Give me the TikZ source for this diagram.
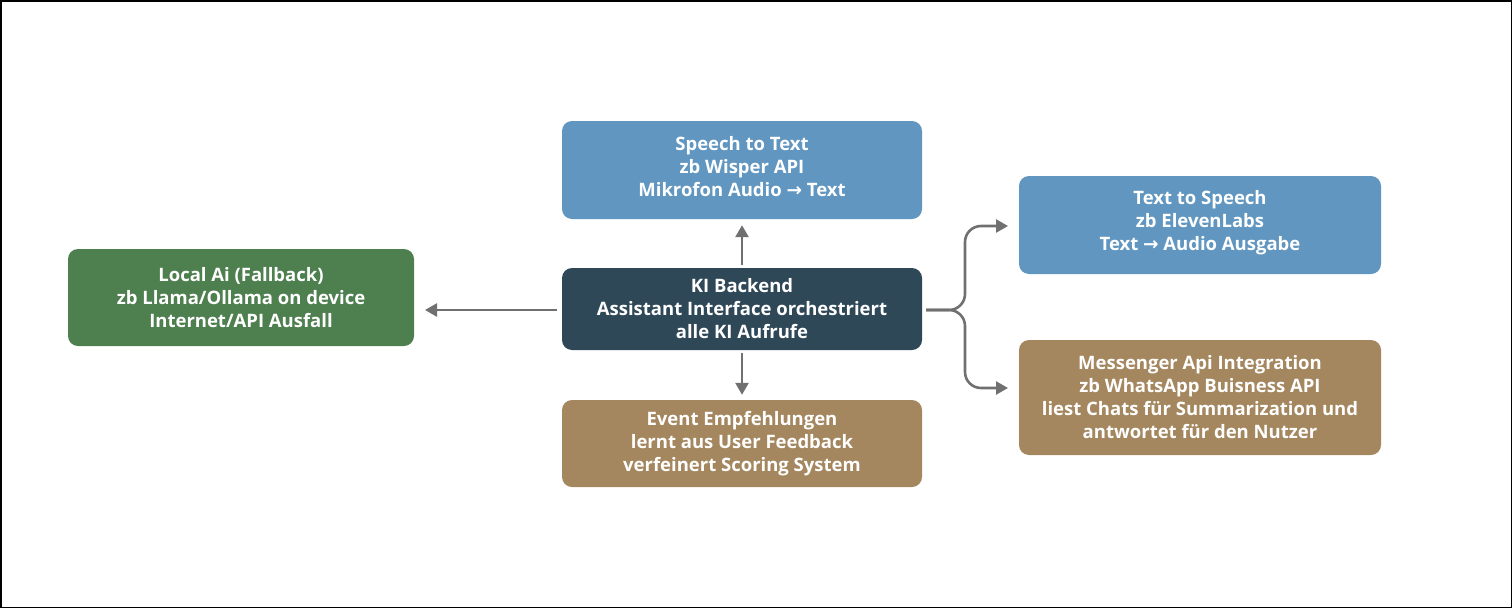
\documentclass[tikz,border=0pt]{standalone}
\usepackage{fontspec}
\setmainfont{Open Sans}
\newfontfamily\arrowfont{DejaVu Sans}
\newcommand{\rarr}{{\arrowfont →}}
\usetikzlibrary{arrows.meta,calc}
\definecolor{cblue}{HTML}{6096BF}
\definecolor{cgreen}{HTML}{4E7F4F}
\definecolor{cdark}{HTML}{2F4858}
\definecolor{cbrown}{HTML}{A4875E}
\definecolor{carrow}{HTML}{707070}
\tikzset{
  box/.style={rounded corners=10pt, inner sep=0pt, text=white, align=center,
    font=\fontsize{18.5}{23}\selectfont\bfseries},
  arr/.style={draw=carrow, line width=2.6pt, -{Triangle[length=12pt,width=13pt]}}
}
\begin{document}
\begin{tikzpicture}[x=1pt,y=-1pt]
\draw[line width=1.5pt] (0.75,0.75) rectangle (1511.25,607.25);
\useasboundingbox (0,0) rectangle (1512,608);
\node[box, fill=cblue, minimum width=360pt, minimum height=98pt] (stt) at (742,170) {};
\node[text=white, align=center, font=\fontsize{18.5}{23}\selectfont\bfseries, inner sep=0pt] (stttext) at (742,166.5) {Speech to Text\\zb Wisper API\\Mikrofon Audio \rarr{} Text};
\node[box, fill=cblue, minimum width=362pt, minimum height=98pt] (tts) at (1200,225) {};
\node[text=white, align=center, font=\fontsize{18.5}{23}\selectfont\bfseries, inner sep=0pt] (ttstext) at (1200,223) {Text to Speech\\zb ElevenLabs\\Text \rarr{} Audio Ausgabe};
\node[box, fill=cgreen, minimum width=346pt, minimum height=97pt] (local) at (241,297.5) {Local Ai (Fallback)\\zb Llama/Ollama on device\\Internet/API Ausfall};
\node[box, fill=cdark, minimum width=360pt, minimum height=82pt] (ki) at (742,309) {KI Backend\\Assistant Interface orchestriert\\alle KI Aufrufe};
\node[box, fill=cbrown, minimum width=360pt, minimum height=87pt] (event) at (742,443.5) {Event Empfehlungen\\lernt aus User Feedback\\verfeinert Scoring System};
\node[box, fill=cbrown, minimum width=362pt, minimum height=115pt] (msg) at (1200,397.5) {Messenger Api Integration\\zb WhatsApp Buisness API\\liest Chats für Summarization und\\antwortet für den Nutzer};
\coordinate (kiW) at (557,310);
\coordinate (localT) at (425,310);
\coordinate (kiE) at (926,310);
\coordinate (fork) at (965,310);
\coordinate (ttsT) at (1008,226);
\coordinate (msgT) at (1008,388);
\draw[arr] (kiW) -- (localT);
\draw[arr] ($(ki.north)+(0,-3)$) -- ($(stt.south)+(0,6)$);
\draw[arr] ($(ki.south)+(0,3)$) -- ($(event.north)+(0,-5)$);
\draw[arr, rounded corners=16pt] (kiE) -- (fork) |- (ttsT);
\draw[arr, rounded corners=16pt] (kiE) -- (fork) |- (msgT);
\end{tikzpicture}
\end{document}
